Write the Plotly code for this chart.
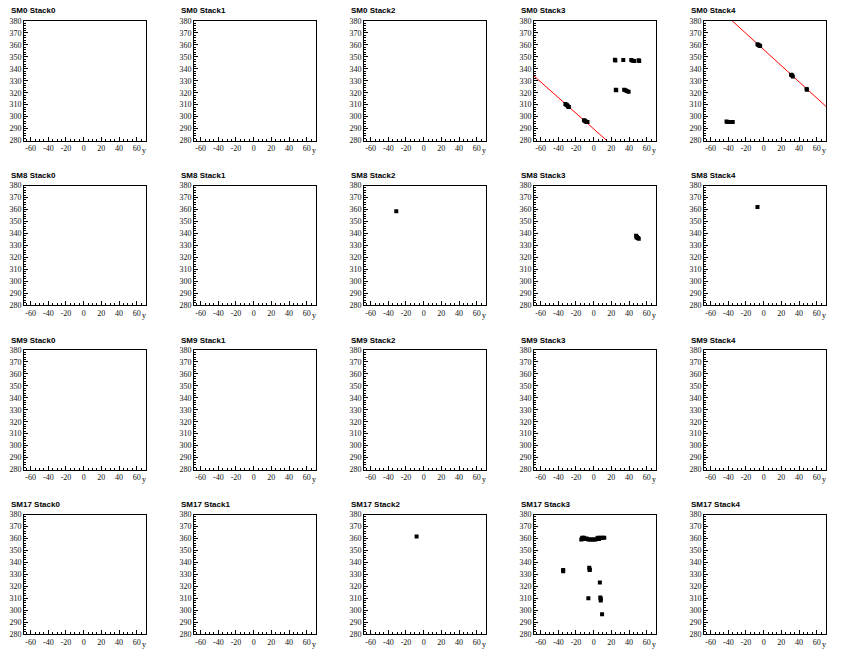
import plotly.graph_objects as go

# ---------------- data ----------------
supermodules = ["SM0", "SM8", "SM9", "SM17"]
stacks = ["Stack0", "Stack1", "Stack2", "Stack3", "Stack4"]

x_tick_vals = [-60, -40, -20, 0, 20, 40, 60]
x_tick_text = ["-60", "-40", "-20", "0", "20", "40", "60"]
y_tick_vals = [280, 290, 300, 310, 320, 330, 340, 350, 360, 370, 380]
y_tick_text = ["280", "290", "300", "310", "320", "330", "340", "350", "360", "370", "380"]

# SM0 Stack3 hits
sm0_s3_x = [-32, -31, -30, -29, -28, -11, -10, -9, -8, -7,
            24, 24.5, 33.5, 42.5, 44, 46, 51, 51.5,
            25, 25.5, 34.5, 36, 37.5, 39.5]
sm0_s3_y = [310.5, 310, 309.5, 308.5, 308, 297, 296.5, 296, 295.5, 295.5,
            347.5, 347, 347.3, 347.3, 346.8, 346.5, 347.2, 346.5,
            322.5, 322, 322.5, 322, 321.5, 320.8]
sm0_s3_fit_x = [-68, 16]
sm0_s3_fit_y = [334.3, 279.2]

# SM0 Stack4 hits
sm0_s4_x = [-7, -6, -5, -4, 31, 32, 33, 48.5, 49,
            -42, -41, -39, -37, -35]
sm0_s4_y = [360.5, 360, 359.5, 359, 335, 334.5, 333.5, 323, 322.5,
            296, 295.5, 295.5, 295.5, 295.5]
sm0_s4_fit_x = [-36, 72]
sm0_s4_fit_y = [380.4, 307.5]

# SM8
sm8_s2_x = [-31]
sm8_s2_y = [358.5]
sm8_s3_x = [48, 49, 50, 51, 48.5]
sm8_s3_y = [338, 337, 336, 335.5, 336.5]
sm8_s4_x = [-7]
sm8_s4_y = [362]

# SM17
sm17_s2_x = [-8]
sm17_s2_y = [361.5]
sm17_s3_x = [-14, -13, -11, -10, -8, -6, -4, -2, 0, 2, 4, 5, 6, 8, 10, 12,
             -34.5, -34.5, -5, -4.5, -4.5, 7, -6, 7.5, 8, 8, 9.5]
sm17_s3_y = [359, 360.5, 360.5, 359.5, 360, 359, 359, 359, 359, 359, 360, 360.5, 359.5, 360.5, 360.5, 360.5,
             333.5, 332.5, 335.5, 334, 333.5, 323, 310, 310.5, 309.5, 308, 296.5]

x_range = [-67.5, 70.5]
y_range = [280, 380]

hits = {
    (0, 3): (sm0_s3_x, sm0_s3_y),
    (0, 4): (sm0_s4_x, sm0_s4_y),
    (1, 2): (sm8_s2_x, sm8_s2_y),
    (1, 3): (sm8_s3_x, sm8_s3_y),
    (1, 4): (sm8_s4_x, sm8_s4_y),
    (3, 2): (sm17_s2_x, sm17_s2_y),
    (3, 3): (sm17_s3_x, sm17_s3_y),
}
fits = {
    (0, 3): (sm0_s3_fit_x, sm0_s3_fit_y),
    (0, 4): (sm0_s4_fit_x, sm0_s4_fit_y),
}

# ---------------- layout ----------------
W, H = 851, 656
fig = go.Figure()
annotations = []
layout = dict(
    width=W, height=H, margin=dict(l=0, r=0, t=0, b=0),
    paper_bgcolor="white", plot_bgcolor="white", showlegend=False,
)

tick_font = dict(family="Liberation Serif, Times New Roman, serif", size=8, color="#111")

for r, sm in enumerate(supermodules):
    top = 21 + 164.5 * r
    bot = top + 119.5
    for c, st in enumerate(stacks):
        idx = r * 5 + c + 1
        x0 = 24 + 170 * c
        x1 = x0 + 122
        xa = "xaxis" if idx == 1 else f"xaxis{idx}"
        ya = "yaxis" if idx == 1 else f"yaxis{idx}"
        xr = "x" if idx == 1 else f"x{idx}"
        yr = "y" if idx == 1 else f"y{idx}"
        layout[xa] = dict(
            domain=[x0 / W, x1 / W], anchor=yr, range=x_range,
            showgrid=False, zeroline=False, showline=True, mirror=True,
            linecolor="black", linewidth=1,
            tickmode="array", tickvals=x_tick_vals, ticktext=x_tick_text,
            ticks="inside", ticklen=4, tickwidth=1, tickcolor="black",
            minor=dict(dtick=5, tick0=0, ticks="inside", ticklen=2, tickcolor="black", tickwidth=1),
            tickfont=tick_font, fixedrange=True, automargin=False,
        )
        layout[ya] = dict(
            domain=[1 - bot / H, 1 - top / H], anchor=xr, range=y_range,
            showgrid=False, zeroline=False, showline=True, mirror=True,
            linecolor="black", linewidth=1,
            tickmode="array", tickvals=y_tick_vals, ticktext=y_tick_text,
            ticks="inside", ticklen=4, tickwidth=1, tickcolor="black",
            minor=dict(dtick=2, tick0=280, ticks="inside", ticklen=2, tickcolor="black", tickwidth=1),
            tickfont=tick_font, fixedrange=True, automargin=False,
        )
        fig.add_trace(go.Scatter(x=[], y=[], xaxis=xr, yaxis=yr, mode="markers"))
        if (r, c) in fits:
            fx, fy = fits[(r, c)]
            fig.add_trace(go.Scatter(x=fx, y=fy, xaxis=xr, yaxis=yr, mode="lines",
                                     line=dict(color="red", width=1), hoverinfo="skip"))
        if (r, c) in hits:
            hx, hy = hits[(r, c)]
            fig.add_trace(go.Scatter(x=hx, y=hy, xaxis=xr, yaxis=yr, mode="markers",
                                     marker=dict(symbol="square", size=4, color="black",
                                                 line=dict(width=0))))
        annotations.append(dict(
            text=f"<b>{sm} {st}</b>", xref="paper", yref="paper",
            x=(x0 - 15) / W, y=1 - (top - 10) / H, xanchor="left", yanchor="middle",
            showarrow=False, font=dict(family="Liberation Sans, Arial, sans-serif", size=8, color="black"),
        ))
        annotations.append(dict(
            text="y", xref="paper", yref="paper",
            x=(x1 - 2) / W, y=1 - (bot + 10) / H, xanchor="center", yanchor="middle",
            showarrow=False, font=dict(family="Liberation Serif, Times New Roman, serif", size=8, color="black"),
        ))

layout["annotations"] = annotations
fig.update_layout(**layout)
fig.write_html(
    "out.html",
    config={"displayModeBar": False},
    post_script="document.body.style.margin='0';document.body.style.overflow='hidden';",
)
